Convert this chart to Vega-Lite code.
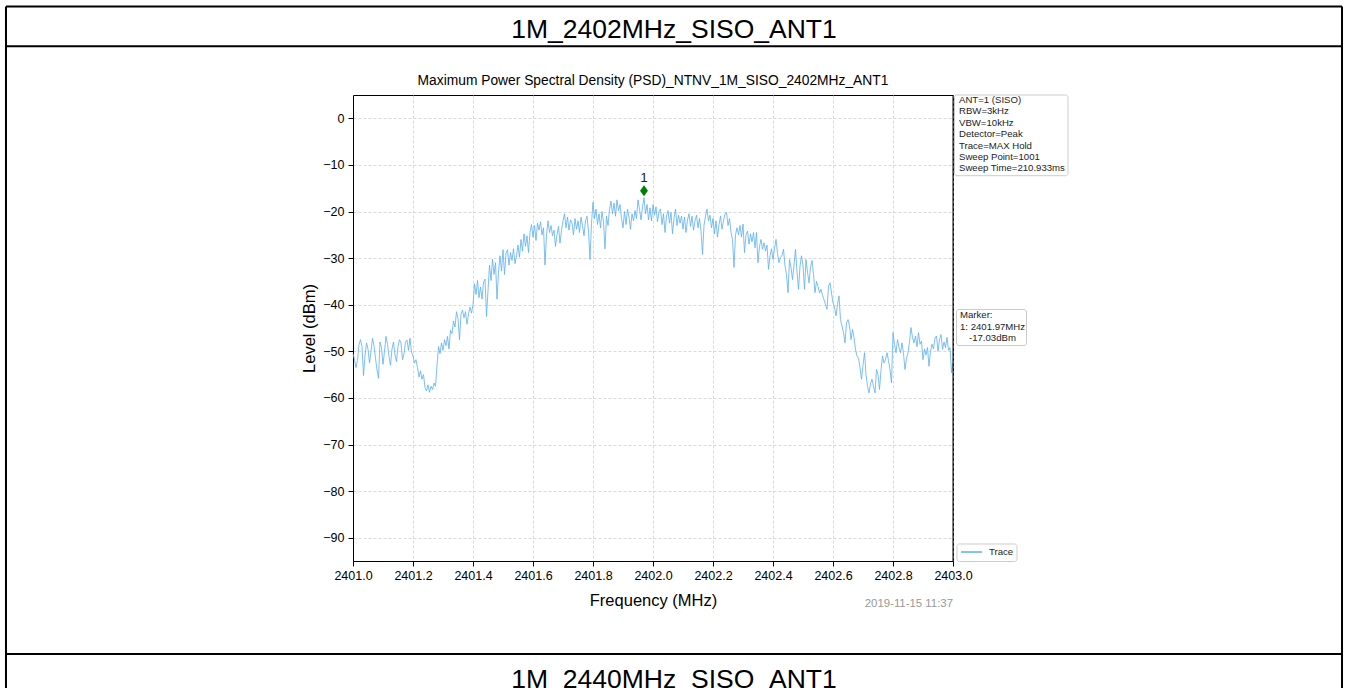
{
"$schema":"https://vega.github.io/schema/vega-lite/v6.json",
"width":600,"height":466,
"autosize":{"type":"none"},
"padding":{"left":353,"top":95,"right":395,"bottom":127},
"background":"white",
"config":{"font":"Liberation Sans","view":{"stroke":"#000000","strokeWidth":1},
"axis":{"labelColor":"#000000","labelFontSize":12.5,"labelFlush":false,"labelOverlap":false,"tickColor":"#000000","tickSize":5,"domainColor":"#000000","grid":true,"gridColor":"#d0d0d0","gridDash":[3,2],"gridWidth":0.8,"titleColor":"#000000","titleFontSize":16.5,"titleFontWeight":"normal"}},
"datasets":{
"table":[{"f":2399.8433,"v":23.99,"f2":2404.2967,"v2":23.99},{"f":2399.8433,"v":15.47,"f2":2404.2967,"v2":15.47},{"f":2399.8433,"v":-114.96,"f2":2404.2967,"v2":-114.96},{"f":2399.8433,"v":23.99,"f2":2399.8433,"v2":-130},{"f":2404.2967,"v":23.99,"f2":2404.2967,"v2":-130}],
"headers":[{"f":2402.07,"v":19.0,"t":"1M_2402MHz_SISO_ANT1"},{"f":2402.07,"v":-120.43,"t":"1M_2440MHz_SISO_ANT1"}],
"charttitle":[{"f":2402.0,"v":7.9,"t":"Maximum Power Spectral Density (PSD)_NTNV_1M_SISO_2402MHz_ANT1"}],
"spine":[{"f":2403.0,"v":5,"f2":2403.0,"v2":-95}],
"boxes":[{"f":2403.005,"f2":2403.3833,"v":5,"v2":-12.32},{"f":2403.0117,"f2":2403.245,"v":-41.03,"v2":-48.76},{"f":2403.0133,"f2":2403.2133,"v":-91.35,"v2":-95.11}],
"notes":[{"f":2403.02,"v":3.93,"t":"ANT=1 (SISO)"},{"f":2403.02,"v":1.50,"t":"RBW=3kHz"},{"f":2403.02,"v":-0.94,"t":"VBW=10kHz"},{"f":2403.02,"v":-3.43,"t":"Detector=Peak"},{"f":2403.02,"v":-5.94,"t":"Trace=MAX Hold"},{"f":2403.02,"v":-8.24,"t":"Sweep Point=1001"},{"f":2403.02,"v":-10.73,"t":"Sweep Time=210.933ms"},{"f":2403.0233,"v":-42.21,"t":"Marker:"},{"f":2403.0233,"v":-44.72,"t":"1: 2401.97MHz"},{"f":2403.0533,"v":-47.21,"t":"-17.03dBm"},{"f":2403.12,"v":-93.07,"t":"Trace"}],
"legendline":[{"f":2403.0267,"f2":2403.0967,"v":-93.07,"v2":-93.07}],
"stamp":[{"f":2403.0,"v":-104.2,"t":"2019-11-15 11:37"}],
"marker":[{"f":2401.97,"v":-17.03,"t":"1"}],
"trace":[
{"f":2401.000,"v":-50.5},{"f":2401.005,"v":-51.8},{"f":2401.010,"v":-53.5},{"f":2401.015,"v":-52.0},{"f":2401.020,"v":-48.5},{"f":2401.025,"v":-47.5},{"f":2401.030,"v":-49.0},{"f":2401.035,"v":-55.2},{"f":2401.040,"v":-51.0},{"f":2401.045,"v":-48.2},
{"f":2401.050,"v":-49.5},{"f":2401.055,"v":-52.5},{"f":2401.060,"v":-50.0},{"f":2401.065,"v":-47.2},{"f":2401.070,"v":-48.8},{"f":2401.075,"v":-51.5},{"f":2401.080,"v":-54.0},{"f":2401.085,"v":-55.8},{"f":2401.090,"v":-48.0},{"f":2401.095,"v":-49.2},
{"f":2401.100,"v":-52.8},{"f":2401.105,"v":-50.0},{"f":2401.110,"v":-46.8},{"f":2401.115,"v":-48.5},{"f":2401.120,"v":-51.2},{"f":2401.125,"v":-53.0},{"f":2401.130,"v":-49.5},{"f":2401.135,"v":-48.0},{"f":2401.140,"v":-50.8},{"f":2401.145,"v":-52.2},
{"f":2401.150,"v":-49.0},{"f":2401.155,"v":-47.5},{"f":2401.160,"v":-48.2},{"f":2401.165,"v":-51.8},{"f":2401.170,"v":-50.5},{"f":2401.175,"v":-48.0},{"f":2401.180,"v":-47.6},{"f":2401.185,"v":-49.8},{"f":2401.190,"v":-47.2},{"f":2401.195,"v":-50.2},
{"f":2401.200,"v":-51.0},{"f":2401.205,"v":-52.5},{"f":2401.210,"v":-51.8},{"f":2401.215,"v":-53.5},{"f":2401.220,"v":-55.5},{"f":2401.225,"v":-54.2},{"f":2401.230,"v":-56.0},{"f":2401.235,"v":-55.0},{"f":2401.240,"v":-57.8},{"f":2401.245,"v":-58.5},
{"f":2401.250,"v":-57.2},{"f":2401.255,"v":-58.8},{"f":2401.260,"v":-57.5},{"f":2401.265,"v":-58.2},{"f":2401.270,"v":-56.8},{"f":2401.275,"v":-57.5},{"f":2401.280,"v":-53.0},{"f":2401.285,"v":-49.0},{"f":2401.290,"v":-50.5},{"f":2401.295,"v":-48.2},
{"f":2401.300,"v":-49.8},{"f":2401.305,"v":-47.5},{"f":2401.310,"v":-48.8},{"f":2401.315,"v":-46.8},{"f":2401.320,"v":-49.5},{"f":2401.325,"v":-45.5},{"f":2401.330,"v":-46.2},{"f":2401.335,"v":-43.5},{"f":2401.340,"v":-44.8},{"f":2401.345,"v":-41.5},
{"f":2401.350,"v":-43.0},{"f":2401.355,"v":-47.5},{"f":2401.360,"v":-42.0},{"f":2401.365,"v":-41.2},{"f":2401.370,"v":-42.8},{"f":2401.375,"v":-41.5},{"f":2401.380,"v":-44.2},{"f":2401.385,"v":-42.0},{"f":2401.390,"v":-40.5},{"f":2401.395,"v":-41.8},
{"f":2401.400,"v":-40.0},{"f":2401.405,"v":-35.5},{"f":2401.410,"v":-37.8},{"f":2401.415,"v":-34.8},{"f":2401.420,"v":-38.5},{"f":2401.425,"v":-36.2},{"f":2401.430,"v":-38.8},{"f":2401.435,"v":-35.2},{"f":2401.440,"v":-34.5},{"f":2401.445,"v":-42.5},
{"f":2401.450,"v":-37.0},{"f":2401.455,"v":-31.5},{"f":2401.460,"v":-34.8},{"f":2401.465,"v":-30.2},{"f":2401.470,"v":-33.5},{"f":2401.475,"v":-31.0},{"f":2401.480,"v":-38.8},{"f":2401.485,"v":-33.0},{"f":2401.490,"v":-29.5},{"f":2401.495,"v":-32.8},
{"f":2401.500,"v":-28.2},{"f":2401.505,"v":-33.5},{"f":2401.510,"v":-29.0},{"f":2401.515,"v":-28.2},{"f":2401.520,"v":-31.5},{"f":2401.525,"v":-28.8},{"f":2401.530,"v":-30.5},{"f":2401.535,"v":-28.0},{"f":2401.540,"v":-31.2},{"f":2401.545,"v":-29.5},
{"f":2401.550,"v":-27.2},{"f":2401.555,"v":-29.8},{"f":2401.560,"v":-26.0},{"f":2401.565,"v":-28.5},{"f":2401.570,"v":-24.8},{"f":2401.575,"v":-27.5},{"f":2401.580,"v":-25.2},{"f":2401.585,"v":-28.8},{"f":2401.590,"v":-24.5},{"f":2401.595,"v":-22.8},
{"f":2401.600,"v":-25.5},{"f":2401.605,"v":-23.0},{"f":2401.610,"v":-26.2},{"f":2401.615,"v":-22.5},{"f":2401.620,"v":-24.0},{"f":2401.625,"v":-22.2},{"f":2401.630,"v":-25.0},{"f":2401.635,"v":-23.5},{"f":2401.640,"v":-31.5},{"f":2401.645,"v":-25.0},
{"f":2401.650,"v":-22.0},{"f":2401.655,"v":-24.5},{"f":2401.660,"v":-23.0},{"f":2401.665,"v":-25.2},{"f":2401.670,"v":-24.0},{"f":2401.675,"v":-27.5},{"f":2401.680,"v":-25.0},{"f":2401.685,"v":-23.2},{"f":2401.690,"v":-26.8},{"f":2401.695,"v":-24.0},
{"f":2401.700,"v":-22.0},{"f":2401.705,"v":-20.5},{"f":2401.710,"v":-23.5},{"f":2401.715,"v":-21.2},{"f":2401.720,"v":-24.0},{"f":2401.725,"v":-21.8},{"f":2401.730,"v":-22.5},{"f":2401.735,"v":-25.0},{"f":2401.740,"v":-21.5},{"f":2401.745,"v":-23.8},
{"f":2401.750,"v":-22.0},{"f":2401.755,"v":-24.5},{"f":2401.760,"v":-21.2},{"f":2401.765,"v":-23.0},{"f":2401.770,"v":-25.2},{"f":2401.775,"v":-22.0},{"f":2401.780,"v":-21.0},{"f":2401.785,"v":-24.2},{"f":2401.790,"v":-30.3},{"f":2401.795,"v":-22.5},
{"f":2401.800,"v":-18.0},{"f":2401.805,"v":-21.5},{"f":2401.810,"v":-19.5},{"f":2401.815,"v":-22.8},{"f":2401.820,"v":-20.5},{"f":2401.825,"v":-23.5},{"f":2401.830,"v":-20.0},{"f":2401.835,"v":-22.2},{"f":2401.840,"v":-28.0},{"f":2401.845,"v":-21.0},
{"f":2401.850,"v":-23.0},{"f":2401.855,"v":-19.5},{"f":2401.860,"v":-17.8},{"f":2401.865,"v":-20.5},{"f":2401.870,"v":-18.2},{"f":2401.875,"v":-21.0},{"f":2401.880,"v":-17.5},{"f":2401.885,"v":-19.8},{"f":2401.890,"v":-18.5},{"f":2401.895,"v":-21.5},
{"f":2401.900,"v":-23.5},{"f":2401.905,"v":-20.0},{"f":2401.910,"v":-22.8},{"f":2401.915,"v":-19.5},{"f":2401.920,"v":-21.2},{"f":2401.925,"v":-23.8},{"f":2401.930,"v":-20.5},{"f":2401.935,"v":-22.0},{"f":2401.940,"v":-19.8},{"f":2401.945,"v":-21.5},
{"f":2401.950,"v":-17.5},{"f":2401.955,"v":-19.5},{"f":2401.960,"v":-21.8},{"f":2401.965,"v":-19.0},{"f":2401.970,"v":-17.03},{"f":2401.975,"v":-20.5},{"f":2401.980,"v":-18.5},{"f":2401.985,"v":-21.8},{"f":2401.990,"v":-19.2},{"f":2401.995,"v":-22.0},
{"f":2402.000,"v":-18.5},{"f":2402.005,"v":-20.8},{"f":2402.010,"v":-19.0},{"f":2402.015,"v":-22.2},{"f":2402.020,"v":-20.0},{"f":2402.025,"v":-19.5},{"f":2402.030,"v":-22.8},{"f":2402.035,"v":-20.5},{"f":2402.040,"v":-24.5},{"f":2402.045,"v":-21.0},
{"f":2402.050,"v":-19.8},{"f":2402.055,"v":-22.5},{"f":2402.060,"v":-20.2},{"f":2402.065,"v":-24.8},{"f":2402.070,"v":-21.5},{"f":2402.075,"v":-19.5},{"f":2402.080,"v":-23.0},{"f":2402.085,"v":-20.8},{"f":2402.090,"v":-22.5},{"f":2402.095,"v":-21.0},
{"f":2402.100,"v":-23.8},{"f":2402.105,"v":-21.2},{"f":2402.110,"v":-24.5},{"f":2402.115,"v":-21.8},{"f":2402.120,"v":-20.5},{"f":2402.125,"v":-23.2},{"f":2402.130,"v":-21.0},{"f":2402.135,"v":-24.0},{"f":2402.140,"v":-22.0},{"f":2402.145,"v":-20.8},
{"f":2402.150,"v":-23.5},{"f":2402.155,"v":-21.5},{"f":2402.160,"v":-24.2},{"f":2402.165,"v":-29.2},{"f":2402.170,"v":-23.0},{"f":2402.175,"v":-21.0},{"f":2402.180,"v":-19.5},{"f":2402.185,"v":-22.0},{"f":2402.190,"v":-20.8},{"f":2402.195,"v":-23.5},
{"f":2402.200,"v":-21.5},{"f":2402.205,"v":-24.8},{"f":2402.210,"v":-22.0},{"f":2402.215,"v":-25.5},{"f":2402.220,"v":-22.8},{"f":2402.225,"v":-21.0},{"f":2402.230,"v":-23.8},{"f":2402.235,"v":-22.0},{"f":2402.240,"v":-20.5},{"f":2402.245,"v":-20.2},
{"f":2402.250,"v":-23.0},{"f":2402.255,"v":-21.5},{"f":2402.260,"v":-24.5},{"f":2402.265,"v":-26.0},{"f":2402.270,"v":-32.0},{"f":2402.275,"v":-25.0},{"f":2402.280,"v":-23.5},{"f":2402.285,"v":-25.0},{"f":2402.290,"v":-23.0},{"f":2402.295,"v":-25.5},
{"f":2402.300,"v":-22.7},{"f":2402.305,"v":-28.8},{"f":2402.310,"v":-25.0},{"f":2402.315,"v":-24.2},{"f":2402.320,"v":-27.0},{"f":2402.325,"v":-24.8},{"f":2402.330,"v":-26.5},{"f":2402.335,"v":-24.5},{"f":2402.340,"v":-27.8},{"f":2402.345,"v":-24.5},
{"f":2402.350,"v":-31.0},{"f":2402.355,"v":-27.5},{"f":2402.360,"v":-26.0},{"f":2402.365,"v":-28.1},{"f":2402.370,"v":-26.7},{"f":2402.375,"v":-28.5},{"f":2402.380,"v":-27.2},{"f":2402.385,"v":-32.4},{"f":2402.390,"v":-29.5},{"f":2402.395,"v":-28.0},
{"f":2402.400,"v":-30.3},{"f":2402.405,"v":-28.0},{"f":2402.410,"v":-26.0},{"f":2402.415,"v":-29.0},{"f":2402.420,"v":-31.0},{"f":2402.425,"v":-29.8},{"f":2402.430,"v":-29.5},{"f":2402.435,"v":-28.1},{"f":2402.440,"v":-31.7},{"f":2402.445,"v":-33.5},
{"f":2402.450,"v":-37.4},{"f":2402.455,"v":-30.3},{"f":2402.460,"v":-32.0},{"f":2402.465,"v":-34.6},{"f":2402.470,"v":-31.5},{"f":2402.475,"v":-28.1},{"f":2402.480,"v":-33.0},{"f":2402.485,"v":-36.7},{"f":2402.490,"v":-31.7},{"f":2402.495,"v":-29.5},
{"f":2402.500,"v":-31.5},{"f":2402.505,"v":-36.7},{"f":2402.510,"v":-30.3},{"f":2402.515,"v":-33.0},{"f":2402.520,"v":-35.3},{"f":2402.525,"v":-32.0},{"f":2402.530,"v":-30.5},{"f":2402.535,"v":-33.5},{"f":2402.540,"v":-37.4},{"f":2402.545,"v":-35.0},
{"f":2402.550,"v":-36.0},{"f":2402.555,"v":-37.5},{"f":2402.560,"v":-36.7},{"f":2402.565,"v":-38.0},{"f":2402.570,"v":-38.9},{"f":2402.575,"v":-40.0},{"f":2402.580,"v":-41.0},{"f":2402.585,"v":-36.0},{"f":2402.590,"v":-35.3},{"f":2402.595,"v":-37.5},
{"f":2402.600,"v":-39.6},{"f":2402.605,"v":-40.5},{"f":2402.610,"v":-42.4},{"f":2402.615,"v":-40.0},{"f":2402.620,"v":-38.1},{"f":2402.625,"v":-43.2},{"f":2402.630,"v":-44.6},{"f":2402.635,"v":-46.0},{"f":2402.640,"v":-48.2},{"f":2402.645,"v":-43.9},
{"f":2402.650,"v":-43.2},{"f":2402.655,"v":-44.5},{"f":2402.660,"v":-47.5},{"f":2402.665,"v":-45.3},{"f":2402.670,"v":-47.0},{"f":2402.675,"v":-49.6},{"f":2402.680,"v":-51.0},{"f":2402.685,"v":-51.5},{"f":2402.690,"v":-53.5},{"f":2402.695,"v":-56.0},
{"f":2402.700,"v":-53.0},{"f":2402.705,"v":-50.3},{"f":2402.710,"v":-55.0},{"f":2402.715,"v":-57.5},{"f":2402.720,"v":-58.9},{"f":2402.725,"v":-57.0},{"f":2402.730,"v":-56.0},{"f":2402.735,"v":-57.5},{"f":2402.740,"v":-58.9},{"f":2402.745,"v":-53.9},
{"f":2402.750,"v":-55.0},{"f":2402.755,"v":-58.2},{"f":2402.760,"v":-54.0},{"f":2402.765,"v":-51.0},{"f":2402.770,"v":-52.5},{"f":2402.775,"v":-51.8},{"f":2402.780,"v":-50.3},{"f":2402.785,"v":-52.0},{"f":2402.790,"v":-53.9},{"f":2402.795,"v":-56.8},
{"f":2402.800,"v":-46.0},{"f":2402.805,"v":-48.5},{"f":2402.810,"v":-50.3},{"f":2402.815,"v":-47.5},{"f":2402.820,"v":-49.2},{"f":2402.825,"v":-50.3},{"f":2402.830,"v":-48.2},{"f":2402.835,"v":-50.5},{"f":2402.840,"v":-53.9},{"f":2402.845,"v":-51.5},
{"f":2402.850,"v":-50.3},{"f":2402.855,"v":-48.0},{"f":2402.860,"v":-44.9},{"f":2402.865,"v":-47.0},{"f":2402.870,"v":-48.2},{"f":2402.875,"v":-46.7},{"f":2402.880,"v":-49.0},{"f":2402.885,"v":-46.0},{"f":2402.890,"v":-48.5},{"f":2402.895,"v":-47.8},
{"f":2402.900,"v":-51.8},{"f":2402.905,"v":-49.5},{"f":2402.910,"v":-50.8},{"f":2402.915,"v":-49.2},{"f":2402.920,"v":-53.2},{"f":2402.925,"v":-50.0},{"f":2402.930,"v":-48.5},{"f":2402.935,"v":-49.5},{"f":2402.940,"v":-47.2},{"f":2402.945,"v":-46.7},
{"f":2402.950,"v":-50.0},{"f":2402.955,"v":-47.5},{"f":2402.960,"v":-46.4},{"f":2402.965,"v":-49.6},{"f":2402.970,"v":-48.0},{"f":2402.975,"v":-49.2},{"f":2402.980,"v":-47.0},{"f":2402.985,"v":-49.8},{"f":2402.990,"v":-49.2},{"f":2402.995,"v":-54.6},
{"f":2403.000,"v":-52.5}
]},
"encoding":{
"x":{"field":"f","type":"quantitative","scale":{"domain":[2401,2403],"nice":false,"zero":false},"axis":{"title":"Frequency (MHz)","values":[2401,2401.2,2401.4,2401.6,2401.8,2402,2402.2,2402.4,2402.6,2402.8,2403],"format":".1f","labelPadding":3,"titlePadding":11}},
"y":{"field":"v","type":"quantitative","scale":{"domain":[-95,5],"nice":false,"zero":false},"axis":{"title":"Level (dBm)","values":[0,-10,-20,-30,-40,-50,-60,-70,-80,-90],"labelPadding":4,"titlePadding":5}}
},
"layer":[
{"data":{"name":"table"},"mark":{"type":"rule","color":"#000000","strokeWidth":2},"encoding":{"x2":{"field":"f2"},"y2":{"field":"v2"}}},
{"data":{"name":"headers"},"mark":{"type":"text","fontSize":26.5,"color":"#000000","align":"center","baseline":"middle"},"encoding":{"text":{"field":"t"}}},
{"data":{"name":"charttitle"},"mark":{"type":"text","fontSize":13.8,"color":"#000000","align":"center","baseline":"middle"},"encoding":{"text":{"field":"t"}}},
{"data":{"name":"trace"},"mark":{"type":"line","color":"#5aaff0","strokeWidth":0.8},"encoding":{}},
{"data":{"name":"spine"},"mark":{"type":"rule","color":"#000000","strokeWidth":1},"encoding":{"x2":{"field":"f2"},"y2":{"field":"v2"}}},
{"data":{"name":"marker"},"mark":{"type":"point","shape":"M0,-1L0.72,0L0,1L-0.72,0Z","filled":true,"opacity":1,"color":"#008000","size":121,"yOffset":-7},"encoding":{}},
{"data":{"name":"marker"},"mark":{"type":"text","fontSize":13.5,"color":"#222222","align":"center","baseline":"middle","dy":-20},"encoding":{"text":{"field":"t"}}},
{"data":{"name":"boxes"},"mark":{"type":"rect","fill":"#ffffff","stroke":"#cccccc","strokeWidth":1,"cornerRadius":2.5},"encoding":{"x2":{"field":"f2"},"y2":{"field":"v2"}}},
{"data":{"name":"notes"},"mark":{"type":"text","fontSize":9.6,"color":"#222222","align":"left","baseline":"middle"},"encoding":{"text":{"field":"t"}}},
{"data":{"name":"legendline"},"mark":{"type":"rule","color":"#5aaff0","strokeWidth":1.5},"encoding":{"x2":{"field":"f2"},"y2":{"field":"v2"}}},
{"data":{"name":"stamp"},"mark":{"type":"text","fontSize":11.4,"color":"#999999","align":"right","baseline":"middle"},"encoding":{"text":{"field":"t"}}}
]
}
